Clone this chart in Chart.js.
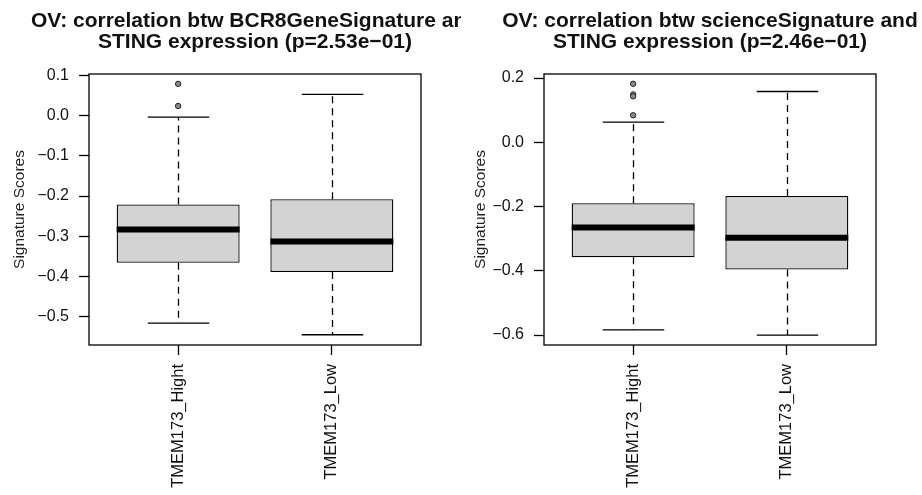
<!DOCTYPE html>
<html>
<head>
<meta charset="utf-8">
<script src="https://cdn.jsdelivr.net/npm/chart.js@4.4.0/dist/chart.umd.min.js"></script>
<style>
  html, body { margin: 0; padding: 0; background: #fff; }
  .wrap { display: flex; width: 922px; height: 495px; }
  canvas { display: block; }
</style>
</head>
<body>
<div class="wrap">
  <canvas id="bcrChart" width="461" height="495"></canvas>
  <canvas id="sciChart" width="461" height="495"></canvas>
</div>
<script>
// groups on the x axis
const groups = ["TMEM173_Hight", "TMEM173_Low"];

// left panel: BCR8GeneSignature
const bcrTitle = ["OV: correlation btw BCR8GeneSignature and", "STING expression (p=2.53e\u221201)"];
const bcrLowWhisker = [-0.516, -0.545];
const bcrQ1 = [-0.366, -0.389];
const bcrMedian = [-0.283, -0.313];
const bcrQ3 = [-0.221, -0.208];
const bcrHighWhisker = [-0.004, 0.053];
const bcrOutliers = [[0.079, 0.024], []];
const bcrTicks = [-0.5, -0.4, -0.3, -0.2, -0.1, 0.0, 0.1];

// right panel: scienceSignature
const sciTitle = ["OV: correlation btw scienceSignature and", "STING expression (p=2.46e\u221201)"];
const sciLowWhisker = [-0.584, -0.600];
const sciQ1 = [-0.358, -0.396];
const sciMedian = [-0.265, -0.297];
const sciQ3 = [-0.190, -0.167];
const sciHighWhisker = [0.063, 0.158];
const sciOutliers = [[0.182, 0.149, 0.143, 0.084], []];
const sciTicks = [-0.6, -0.4, -0.2, 0.0, 0.2];

const FONT = "'Liberation Sans', Arial, sans-serif";

// whiskers, medians, frame and title (R boxplot look)
const boxExtras = {
  id: "boxExtras",
  beforeDatasetsDraw(chart, args, opts) {
    const { ctx, scales: { x, y } } = chart;
    const capHalf = (x.getPixelForValue(1.2) - x.getPixelForValue(0.8)) / 2;
    ctx.save();
    ctx.strokeStyle = "#000";
    ctx.lineWidth = 1.3;
    opts.q1.forEach((q, i) => {
      const cx = Math.round(x.getPixelForValue(i + 1)) + 0.5;
      ctx.setLineDash([7, 5]);
      ctx.beginPath();
      ctx.moveTo(cx, y.getPixelForValue(opts.q3[i]));
      ctx.lineTo(cx, y.getPixelForValue(opts.hi[i]));
      ctx.moveTo(cx, y.getPixelForValue(q));
      ctx.lineTo(cx, y.getPixelForValue(opts.lo[i]));
      ctx.stroke();
      ctx.setLineDash([]);
      ctx.beginPath();
      [opts.hi[i], opts.lo[i]].forEach((v) => {
        const py = y.getPixelForValue(v);
        ctx.moveTo(cx - capHalf, py);
        ctx.lineTo(cx + capHalf, py);
      });
      ctx.stroke();
    });
    ctx.restore();
  },
  afterDatasetsDraw(chart, args, opts) {
    const { ctx, chartArea: { left, right, top, bottom }, scales: { x, y } } = chart;
    const boxHalf = (x.getPixelForValue(1.4) - x.getPixelForValue(0.6)) / 2;
    ctx.save();
    ctx.strokeStyle = "#000";
    ctx.lineWidth = 6;
    ctx.lineCap = "butt";
    opts.med.forEach((m, i) => {
      const cx = x.getPixelForValue(i + 1);
      const py = y.getPixelForValue(m);
      ctx.beginPath();
      ctx.moveTo(cx - boxHalf, py);
      ctx.lineTo(cx + boxHalf, py);
      ctx.stroke();
    });
    // plot frame
    ctx.lineWidth = 1.3;
    ctx.strokeRect(left, top, right - left, bottom - top);
    // two line bold title centred over the plot
    ctx.fillStyle = "#111";
    ctx.font = "bold 21px " + FONT;
    ctx.textAlign = "center";
    ctx.textBaseline = "alphabetic";
    const cx = (left + right) / 2;
    ctx.fillText(opts.title[0], cx, 27);
    ctx.fillText(opts.title[1], cx, 47.5);
    ctx.restore();
  },
};

function fmt(v) {
  return (v < -1e-9 ? "\u2212" : "") + Math.abs(v).toFixed(1);
}

function makeChart(id, plotLeft, padRight, yMin, yMax, yTicks, title, lo, q1, med, q3, hi, outliers) {
  const boxData = groups.map((g, i) => ({ x: i + 1, y: [q1[i], q3[i]] }));
  const outData = outliers.flatMap((list, i) => list.map((v) => ({ x: i + 1, y: v })));
  return new Chart(document.getElementById(id), {
    type: "bar",
    data: {
      datasets: [
        {
          type: "scatter",
          data: outData,
          showLine: false,
          pointStyle: "circle",
          pointRadius: 2.7,
          pointBackgroundColor: "#8a8a8a",
          pointBorderColor: "#222",
          pointBorderWidth: 1,
        },
        {
          data: boxData,
          backgroundColor: "#d3d3d3",
          borderColor: "#000",
          borderWidth: 1.3,
          borderSkipped: false,
          barPercentage: 0.8,
          categoryPercentage: 1,
        },
      ],
    },
    options: {
      responsive: false,
      animation: false,
      layout: { padding: { top: 74, right: padRight, left: 0, bottom: 0 } },
      plugins: {
        legend: { display: false },
        tooltip: { enabled: false },
        boxExtras: { title: title, lo: lo, q1: q1, med: med, q3: q3, hi: hi },
      },
      scales: {
        x: {
          type: "linear",
          offset: false,
          min: 0.42,
          max: 2.58,
          afterBuildTicks: (s) => { s.ticks = groups.map((g, i) => ({ value: i + 1 })); },
          afterFit: (s) => { s.height = 150; },
          grid: { offset: false, drawOnChartArea: false, color: "#000", tickLength: 10, tickWidth: 1.3 },
          border: { display: false },
          ticks: {
            autoSkip: false,
            minRotation: 90,
            maxRotation: 90,
            padding: 9,
            color: "#111",
            font: { family: FONT, size: 16.5 },
            callback: (v) => groups[v - 1],
          },
        },
        y: {
          min: yMin,
          max: yMax,
          afterBuildTicks: (s) => { s.ticks = yTicks.map((v) => ({ value: v })); },
          afterFit: (s) => { s.width = plotLeft; },
          grid: { drawOnChartArea: false, color: "#000", tickLength: 10, tickWidth: 1.3 },
          border: { display: false },
          ticks: {
            padding: 10,
            color: "#111",
            font: { family: FONT, size: 16 },
            callback: (v) => fmt(v),
          },
          title: {
            display: true,
            text: "Signature Scores",
            color: "#222",
            padding: { top: 10, bottom: 0 },
            font: { family: FONT, size: 15.5 },
          },
        },
      },
    },
    plugins: [boxExtras],
  });
}

const bcrChart = makeChart("bcrChart", 89, 40, -0.5705, 0.1035, bcrTicks, bcrTitle,
  bcrLowWhisker, bcrQ1, bcrMedian, bcrQ3, bcrHighWhisker, bcrOutliers);
const sciChart = makeChart("sciChart", 83, 46, -0.631, 0.2125, sciTicks, sciTitle,
  sciLowWhisker, sciQ1, sciMedian, sciQ3, sciHighWhisker, sciOutliers);
</script>
</body>
</html>
